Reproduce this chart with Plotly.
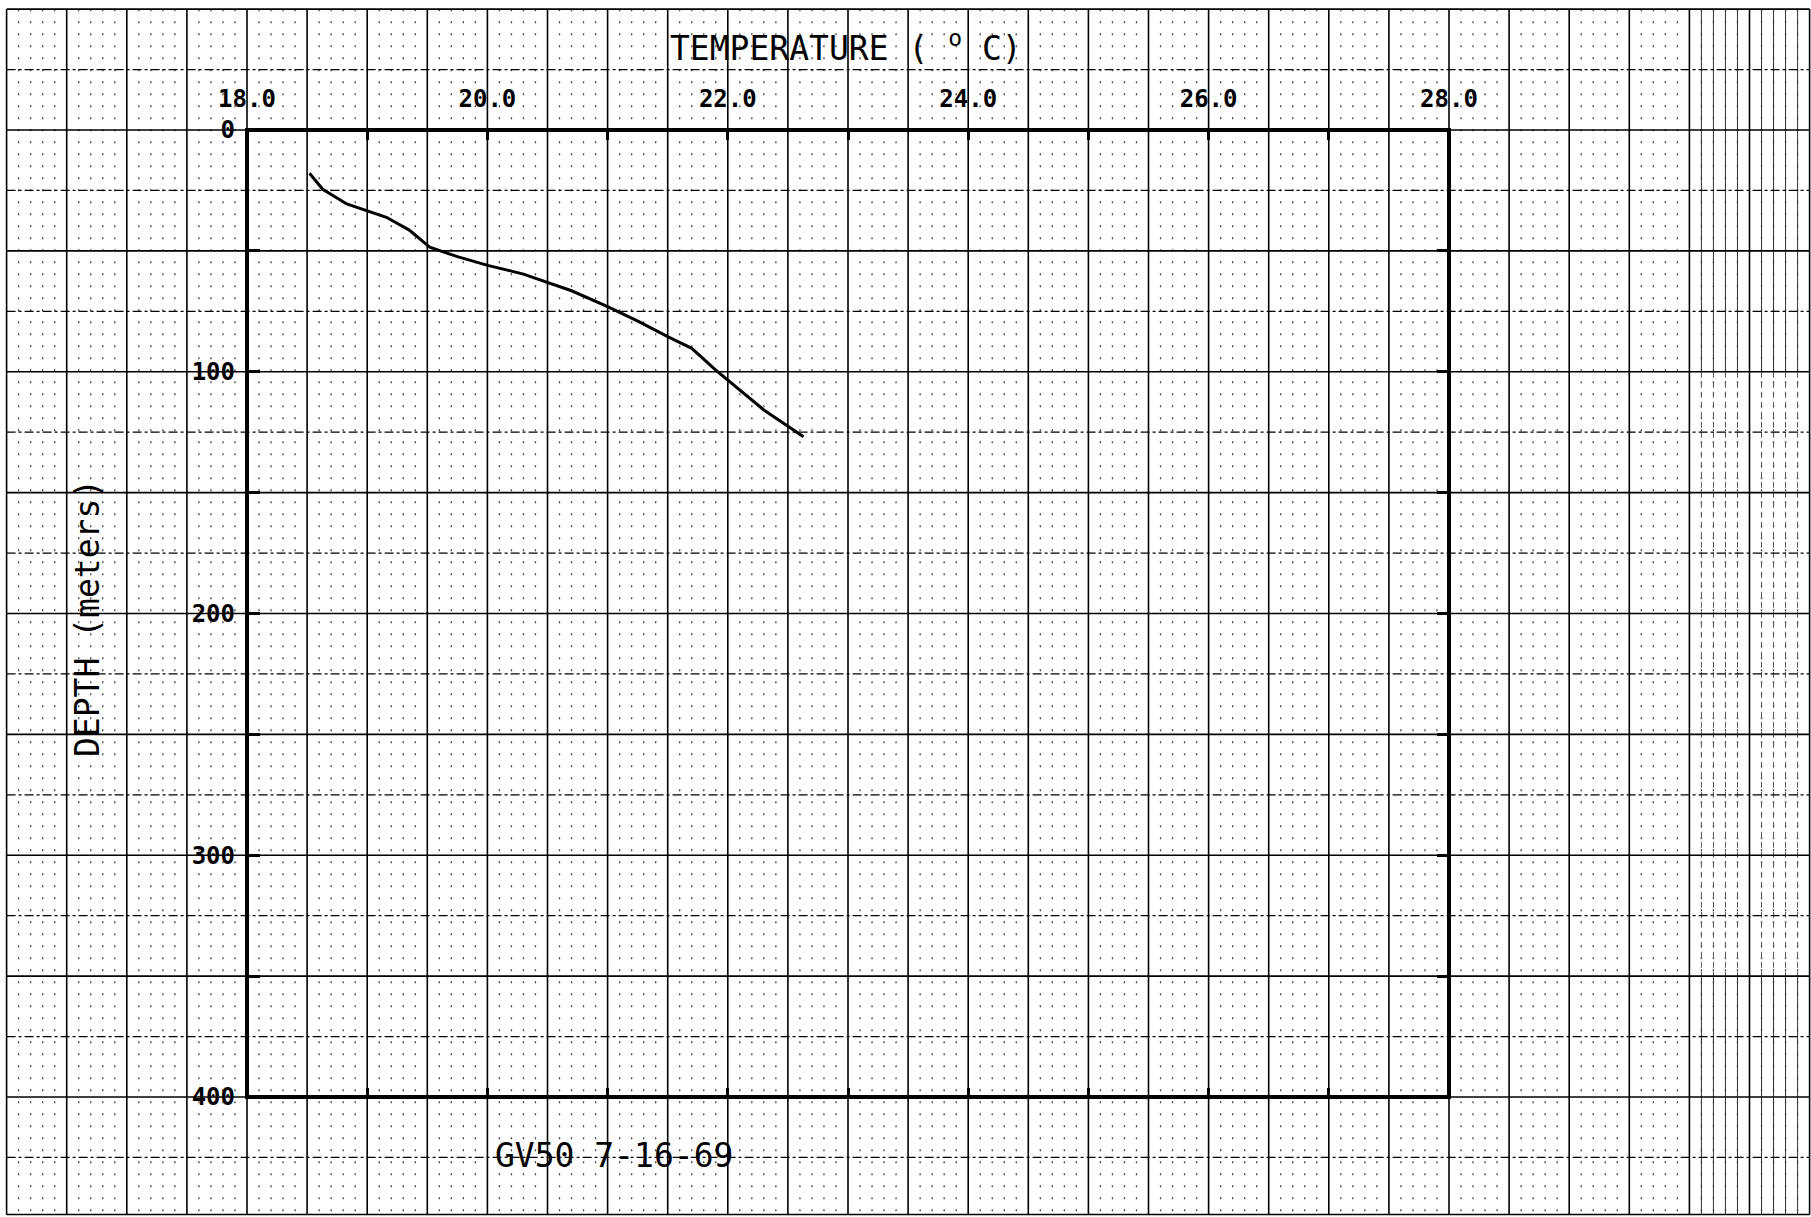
import numpy as np
import plotly.graph_objects as go

# Bathythermograph cast GV50, 7-16-69: temperature (deg C) vs depth (m)
temperature_c = [18.52, 18.63, 18.83, 19.03, 19.16, 19.35, 19.52, 19.75, 20.01, 20.30,
                 20.52, 20.70, 21.00, 21.26, 21.50, 21.70, 21.90, 22.00, 22.30, 22.63]
depth_m = [17.9, 24.5, 30.6, 33.8, 36.1, 41.4, 48.5, 52.4, 56.1, 59.6,
           63.4, 66.5, 73.1, 79.3, 85.5, 90.3, 99.3, 103.4, 115.8, 126.9]

temp_ticks = [18, 20, 22, 24, 26, 28]
temp_labels = ["18.0", "20.0", "22.0", "24.0", "26.0", "28.0"]
temp_minor = [19, 21, 23, 25, 27]
depth_ticks = [0, 100, 200, 300, 400]
depth_labels = ["0", "100", "200", "300", "400"]
depth_minor = [50, 150, 250, 350]

W, H = 1811, 1217
# plotting frame: 18-28 deg C across, 0-400 m down
BOX_L, BOX_R, BOX_T, BOX_B = 247, 1449, 130, 1097
px_per_c = (BOX_R - BOX_L) / (temp_ticks[-1] - temp_ticks[0])
px_per_m = (BOX_B - BOX_T) / (depth_ticks[-1] - depth_ticks[0])
x_range = [18 - BOX_L / px_per_c, 18 + (W - BOX_L) / px_per_c]
y_range = [(H - BOX_T) / px_per_m, -BOX_T / px_per_m]

fig = go.Figure()

fig.add_trace(go.Scatter(
    x=temperature_c, y=depth_m, mode="lines",
    line=dict(color="black", width=3), hoverinfo="skip", showlegend=False,
))
# anchor traces for the mirrored tick axes (bottom and right edges of the frame)
fig.add_trace(go.Scatter(x=[18], y=[0], xaxis="x2", yaxis="y", mode="markers",
                         marker=dict(opacity=0), hoverinfo="skip", showlegend=False))
fig.add_trace(go.Scatter(x=[18], y=[0], xaxis="x", yaxis="y2", mode="markers",
                         marker=dict(opacity=0), hoverinfo="skip", showlegend=False))

shapes = []
paper_top, paper_bot = -50, 448.6
paper_left, paper_right = 16.0, 31.0


def vline(t, y0, y1, color, width, dash="solid"):
    return dict(type="line", xref="x", yref="y", x0=t, x1=t, y0=y0, y1=y1,
                line=dict(color=color, width=width, dash=dash), layer="below")


# graph-paper dot lattice (every 0.1 deg)
for t in np.arange(16.1, 31.0, 0.1):
    if abs(t * 2 - round(t * 2)) < 1e-6:
        continue
    shapes.append(vline(t, paper_top, paper_bot, "#444444", 1.3, "2px,10px"))
# closer ruling toward the right-hand edge of the sheet
for t in np.arange(30.1, 31.0, 0.1):
    shapes.append(vline(t, paper_top, 100, "#333333", 1))
    shapes.append(vline(t, 100, 350, "#555555", 1, "6px,4px"))
    shapes.append(vline(t, 350, paper_bot, "#333333", 1))
# main vertical rulings every 0.5 deg
for t in np.arange(16.0, 31.01, 0.5):
    shapes.append(vline(t, paper_top, paper_bot, "black", 1.6))
# horizontal rulings every 25 m: solid on 50 m, dash-dot between
for d in np.arange(-50, 449, 25):
    solid = int(d) % 50 == 0
    shapes.append(dict(type="line", xref="x", yref="y", x0=paper_left, x1=paper_right, y0=d, y1=d,
                       line=dict(color="black", width=1.6 if solid else 1.3,
                                 dash="solid" if solid else "dashdot"), layer="below"))
shapes.append(dict(type="line", xref="x", yref="y", x0=paper_left, x1=paper_right,
                   y0=paper_bot, y1=paper_bot, line=dict(color="black", width=1.6), layer="below"))

# plotting frame
shapes.append(dict(type="rect", xref="x", yref="y", x0=temp_ticks[0], x1=temp_ticks[-1],
                   y0=depth_ticks[0], y1=depth_ticks[-1],
                   line=dict(color="black", width=4), fillcolor="rgba(0,0,0,0)", layer="above"))

tick_font = dict(family="DejaVu Sans Mono", size=24, color="black", weight="bold")
x_minor = dict(tickmode="array", tickvals=temp_minor, ticks="inside", ticklen=9,
               tickwidth=3, tickcolor="black")
y_minor = dict(tickmode="array", tickvals=depth_minor, ticks="inside", ticklen=12,
               tickwidth=3, tickcolor="black")

fig.update_layout(
    width=W, height=H, autosize=False,
    margin=dict(l=0, r=0, t=0, b=0),
    paper_bgcolor="white", plot_bgcolor="white",
    showlegend=False,
    shapes=shapes,
    xaxis=dict(
        domain=[0, 1], range=x_range, fixedrange=True,
        side="top", anchor="free", position=1 - BOX_T / H,
        showgrid=False, zeroline=False, showline=False,
        tickmode="array", tickvals=temp_ticks, ticktext=temp_labels,
        ticks="inside", ticklen=9, tickwidth=3, tickcolor="black",
        tickfont=tick_font, ticklabelstandoff=18, minor=x_minor,
    ),
    xaxis2=dict(
        overlaying="x", range=x_range, fixedrange=True,
        side="bottom", anchor="free", position=1 - BOX_B / H,
        showgrid=False, zeroline=False, showline=False,
        tickmode="array", tickvals=temp_ticks,
        ticks="inside", ticklen=9, tickwidth=3, tickcolor="black", showticklabels=False,
        minor=x_minor,
    ),
    yaxis=dict(
        domain=[0, 1], range=y_range, fixedrange=True,
        side="left", anchor="free", position=BOX_L / W,
        showgrid=False, zeroline=False, showline=False,
        tickmode="array", tickvals=depth_ticks, ticktext=depth_labels,
        ticks="inside", ticklen=12, tickwidth=3, tickcolor="black",
        tickfont=tick_font, ticklabelstandoff=12, minor=y_minor,
    ),
    yaxis2=dict(
        overlaying="y", range=y_range, fixedrange=True,
        side="right", anchor="free", position=BOX_R / W,
        showgrid=False, zeroline=False, showline=False,
        tickmode="array", tickvals=depth_ticks,
        ticks="inside", ticklen=12, tickwidth=3, tickcolor="black", showticklabels=False,
        minor=y_minor,
    ),
)

title_font = dict(family="DejaVu Sans Mono", size=33, color="black")
fig.add_annotation(
    text="TEMPERATURE ( <sup>o</sup> C)", xref="paper", yref="paper",
    x=668 / W, y=1 - 47 / H, xanchor="left", yanchor="middle",
    showarrow=False, font=title_font, bgcolor="rgba(0,0,0,0)",
)
fig.add_annotation(
    text="DEPTH (meters)", xref="paper", yref="paper", textangle=-90,
    x=87 / W, y=1 - 618 / H, xanchor="center", yanchor="middle",
    showarrow=False, font=title_font,
)
fig.add_annotation(
    text="GV50 7-16-69", xref="paper", yref="paper",
    x=614 / W, y=1 - 1155 / H, xanchor="center", yanchor="middle",
    showarrow=False, font=dict(family="DejaVu Sans Mono", size=33, color="black"),
)

fig.write_html("out.html")
